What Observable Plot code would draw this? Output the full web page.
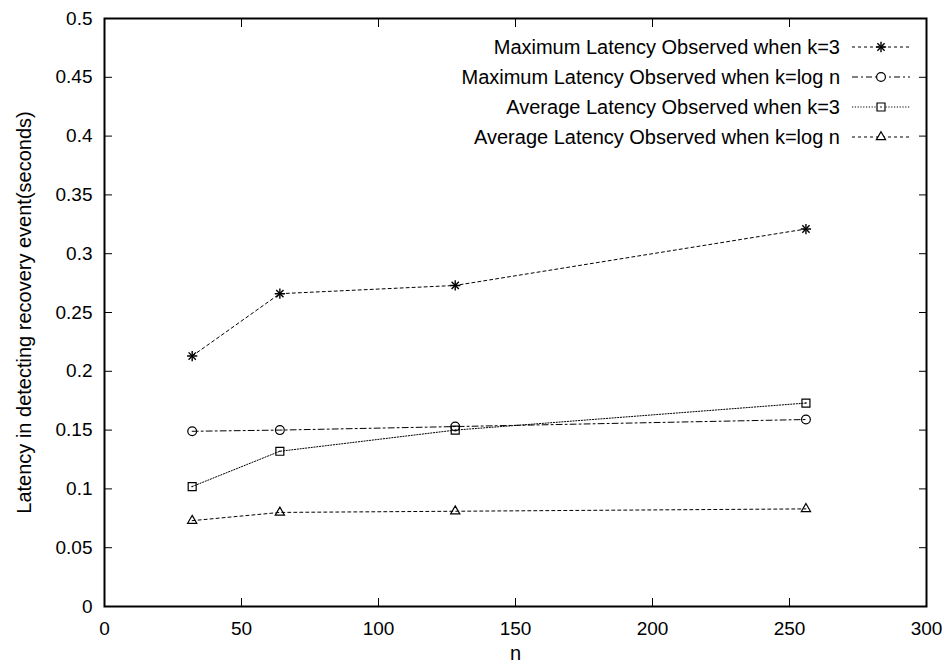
<!DOCTYPE html>
<html><head><meta charset="utf-8">
<script src="https://cdn.jsdelivr.net/npm/d3@7"></script>
<script src="https://cdn.jsdelivr.net/npm/@observablehq/plot@0.6"></script>
<style>body{margin:0;background:#fff}</style>
</head><body><div id="chart"></div>
<script>
// ---- data ----
const nValues = [32, 64, 128, 256];
const seriesNames = [
  "Maximum Latency Observed when k=3",
  "Maximum Latency Observed when k=log n",
  "Average Latency Observed when k=3",
  "Average Latency Observed when k=log n"
];
const maxK3   = [0.213, 0.266, 0.273, 0.321];
const maxLogN = [0.149, 0.150, 0.153, 0.159];
const avgK3   = [0.102, 0.132, 0.150, 0.173];
const avgLogN = [0.073, 0.080, 0.081, 0.083];
const xTicks = [0, 50, 100, 150, 200, 250, 300];
const yTicks = [0, 0.05, 0.1, 0.15, 0.2, 0.25, 0.3, 0.35, 0.4, 0.45, 0.5];
const yTickLabels = ["0", "0.05", "0.1", "0.15", "0.2", "0.25", "0.3", "0.35", "0.4", "0.45", "0.5"];
const xLabel = "n";
const yLabel = "Latency in detecting recovery event(seconds)";

// ---- styles ----
const seriesValues = [maxK3, maxLogN, avgK3, avgLogN];
const dashes = ["3,3", "6,3,2,3", "1.2,1.6", "3,3"];
const symbolSets = [["plus", "times"], ["circle"], ["square"], ["triangle2"]];
const symbolRadius = {plus: 3.4, times: 3.4, circle: 4.4, square: 4.5, triangle2: 4.4};
const symbolWidth = {plus: 1.4, times: 1.4, circle: 1.2, square: 1.2, triangle2: 1.2};
const d3Symbols = {plus: d3.symbolPlus, times: d3.symbolTimes, circle: d3.symbolCircle, square: d3.symbolSquare, triangle2: d3.symbolTriangle2};
const FONT = "'Liberation Sans', Arial, Helvetica, sans-serif";

const table = [];
seriesNames.forEach((s, i) => nValues.forEach((n, j) => table.push({series: s, idx: i, n, latency: seriesValues[i][j]})));

function legend(index, scales, values, dims) {
  const g = d3.create("svg:g").attr("font-family", FONT).attr("font-size", 20).attr("fill", "black");
  const right = dims.width - dims.marginRight;
  seriesNames.forEach((name, i) => {
    const y = dims.marginTop + 29 + i * 30;
    g.append("text").attr("x", right - 86).attr("y", y).attr("dy", "0.35em")
      .attr("text-anchor", "end").text(name);
    g.append("line").attr("x1", right - 74).attr("x2", right - 16).attr("y1", y).attr("y2", y)
      .attr("stroke", "black").attr("stroke-width", 1).attr("stroke-dasharray", dashes[i]);
    for (const s of symbolSets[i]) {
      const r = symbolRadius[s];
      g.append("path").attr("transform", `translate(${right - 45},${y})`)
        .attr("d", d3.symbol(d3Symbols[s], Math.PI * r * r)())
        .attr("fill", "white").attr("stroke", "black").attr("stroke-width", symbolWidth[s]);
    }
    if (symbolSets[i][0] === "square")
      g.append("circle").attr("cx", right - 45).attr("cy", y).attr("r", 0.8).attr("fill", "black");
  });
  return g.node();
}

const marks = [];
seriesNames.forEach((s, i) => {
  const data = table.filter(d => d.idx === i);
  marks.push(Plot.line(data, {x: "n", y: "latency", stroke: "black", strokeWidth: 1, strokeDasharray: dashes[i]}));
});
seriesNames.forEach((s, i) => {
  const data = table.filter(d => d.idx === i);
  for (const sym of symbolSets[i]) {
    marks.push(Plot.dot(data, {x: "n", y: "latency", symbol: sym, r: symbolRadius[sym], stroke: "black", strokeWidth: symbolWidth[sym], fill: "none"}));
  }
  if (symbolSets[i][0] === "square") marks.push(Plot.dot(data, {x: "n", y: "latency", r: 0.8, fill: "black", stroke: null}));
});

const chart = Plot.plot({
  width: 950,
  height: 670,
  marginLeft: 104,
  marginRight: 24,
  marginTop: 18,
  marginBottom: 64,
  style: {fontFamily: FONT, fontSize: "19px", color: "black", background: "white"},
  x: {domain: [0, 300], axis: null},
  y: {domain: [0, 0.5], axis: null},
  marks: [
    Plot.axisX({ticks: xTicks, anchor: "bottom", tickSize: 0, tickPadding: 15, tickFormat: d => String(d), label: null, fontSize: 19}),
    Plot.axisY({ticks: yTicks, anchor: "left", tickSize: 0, tickPadding: 12, tickFormat: d => yTickLabels[yTicks.indexOf(d)], label: null, fontSize: 19}),
    Plot.axisX({ticks: xTicks, anchor: "bottom", tickSize: -8, text: null, label: null}),
    Plot.axisX({ticks: xTicks, anchor: "top", tickSize: -8, text: null, label: null}),
    Plot.axisY({ticks: yTicks, anchor: "left", tickSize: -8, text: null, label: null}),
    Plot.axisY({ticks: yTicks, anchor: "right", tickSize: -8, text: null, label: null}),
    ...marks,
    Plot.text([yLabel], {text: d => d, frameAnchor: "left", dx: -80, rotate: -90, textAnchor: "middle", fontSize: 20}),
    Plot.text([xLabel], {text: d => d, frameAnchor: "bottom", dy: 53, textAnchor: "middle", fontSize: 20}),
    legend,
    Plot.frame({stroke: "black", strokeWidth: 2})
  ]
});
document.getElementById("chart").appendChild(chart);
</script>
</body></html>
